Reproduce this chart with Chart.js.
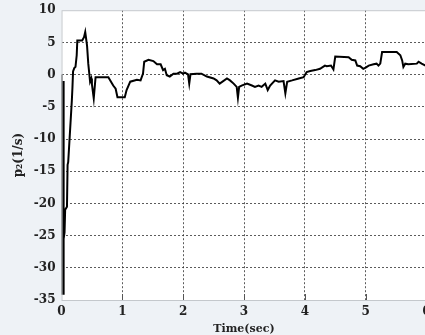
<!DOCTYPE html>
<html>
<head>
<meta charset="utf-8">
<script src="https://cdn.jsdelivr.net/npm/chart.js@4/dist/chart.umd.min.js"></script>
<style>
  html, body { margin: 0; padding: 0; overflow: hidden; background: #eef2f6; }
  #wrap { width: 440px; height: 343px; margin-top: -3px; }
</style>
</head>
<body>
<div id="wrap"><canvas id="myChart" width="440" height="343"></canvas></div>
<script>
// time axis (s) and p2 trace (1/s)
let timeSec = [0, 0.008, 0.010, 0.028, 0.030, 0.035, 0.04, 0.05, 0.06, 0.09, 0.10, 0.11, 0.17, 0.18, 0.19, 0.21, 0.23, 0.25, 0.26, 0.34, 0.37, 0.39,
  0.42, 0.44, 0.47, 0.49, 0.50, 0.53, 0.56, 0.77, 0.85, 0.89, 0.92, 1.04, 1.07, 1.13, 1.24, 1.30, 1.34, 1.36, 1.43, 1.51,
  1.57, 1.63, 1.67, 1.70, 1.73, 1.78, 1.84, 1.90, 1.95, 2.00, 2.03, 2.08, 2.10, 2.12, 2.22, 2.30, 2.39, 2.50, 2.55, 2.60,
  2.72, 2.77, 2.83, 2.88, 2.90, 2.92, 2.96, 3.05, 3.13, 3.18, 3.24, 3.29, 3.35, 3.39, 3.43, 3.51, 3.57, 3.65, 3.68, 3.71,
  3.79, 3.90, 3.98, 4.03, 4.09, 4.17, 4.25, 4.33, 4.36, 4.43, 4.47, 4.50, 4.72, 4.77, 4.83, 4.86, 4.91, 4.96, 5.00, 5.05,
  5.13, 5.18, 5.21, 5.24, 5.27, 5.51, 5.57, 5.60, 5.62, 5.65, 5.70, 5.84, 5.87, 5.92, 6.0];
let p2 = [0, 0, -34.2, -1, -34.2, -34.2, -25.5, -24.5, -21, -20.5, -14, -13.6, -4, -2, 0.5, 1.0, 1.2, 3, 5.3, 5.3, 5.8, 6.6,
  4.5, 1.7, -1.1, -0.6, -1.5, -3.7, -0.4, -0.4, -1.7, -2.2, -3.5, -3.5, -2.4, -1.1, -0.8, -0.9, 0.15, 2.0, 2.3, 2.1,
  1.6, 1.6, 0.7, 0.9, -0.1, -0.3, 0.15, 0.15, 0.4, 0.15, 0.3, 0.05, -1.4, 0.05, 0.15, 0.15, -0.3, -0.6, -0.9, -1.4,
  -0.6, -0.9, -1.4, -1.9, -3.6, -1.9, -1.7, -1.4, -1.7, -1.9, -1.7, -1.9, -1.4, -2.4, -1.7, -0.9, -1.1, -1.0, -2.9, -1.1,
  -0.9, -0.6, -0.4, 0.4, 0.55, 0.7, 0.9, 1.4, 1.3, 1.4, 0.8, 2.8, 2.7, 2.3, 2.2, 1.4, 1.3, 0.9, 1.1, 1.4,
  1.6, 1.7, 1.4, 1.7, 3.5, 3.5, 3.0, 2.2, 1.2, 1.7, 1.6, 1.7, 2.0, 1.7, 1.3];

let xTicks = [0, 1, 2, 3, 4, 5, 6];
let yTicks = [-35, -30, -25, -20, -15, -10, -5, 0, 5, 10];

const tickFont = { family: 'DejaVu Serif', size: 12, weight: 'bold' };
const titleFont = { family: 'DejaVu Serif', size: 11, weight: 'bold' };
const gridColor = 'rgba(50,50,50,0.8)';

// white plot area, grey frame and short inward ticks on the time axis
const plotFrame = {
  id: 'plotFrame',
  beforeDraw(chart) {
    const { ctx, chartArea: a } = chart;
    ctx.save();
    ctx.fillStyle = '#ffffff';
    ctx.fillRect(a.left, a.top, a.right - a.left, a.bottom - a.top);
    ctx.restore();
  },
  afterDraw(chart) {
    const { ctx, chartArea: a } = chart;
    const x = chart.scales.x;
    ctx.save();
    ctx.strokeStyle = '#555';
    ctx.lineWidth = 1;
    xTicks.slice(1, -1).forEach(v => {
      const px = Math.round(x.getPixelForValue(v)) + 0.5;
      ctx.beginPath();
      ctx.moveTo(px, a.bottom);
      ctx.lineTo(px, a.bottom - 6);
      ctx.stroke();
    });
    ctx.strokeStyle = '#c4c8cc';
    ctx.strokeRect(a.left + 0.5, a.top + 0.5, a.right - a.left, a.bottom - a.top);
    ctx.restore();
  }
};

const ctx = document.getElementById('myChart').getContext('2d');
const myChart = new Chart(ctx, {
  type: 'line',
  data: {
    datasets: [{
      data: timeSec.map((t, i) => ({ x: t, y: p2[i] })),
      borderColor: '#000',
      borderWidth: 2,
      pointRadius: 0,
      tension: 0,
      fill: false
    }]
  },
  options: {
    responsive: false,
    animation: false,
    layout: { padding: { top: 7, right: 13.5, left: 0, bottom: 0 } },
    plugins: { legend: { display: false }, tooltip: { enabled: false } },
    scales: {
      x: {
        type: 'linear',
        min: 0,
        max: 6,
        afterFit: s => { s.height = 40; },
        afterBuildTicks: s => { s.ticks = xTicks.map(v => ({ value: v })); },
        border: { display: false, dash: [2, 2] },
        grid: {
          drawTicks: false,
          color: c => (c.tick && (c.tick.value === 0 || c.tick.value === 6)) ? 'transparent' : gridColor,
          lineWidth: 1
        },
        ticks: { font: tickFont, color: '#222', padding: 5, maxRotation: 0 },
        title: { display: true, text: 'Time(sec)', font: titleFont, color: '#222', padding: { top: 0, bottom: 4 } }
      },
      y: {
        min: -35,
        max: 10,
        afterFit: s => { s.width = 61.5; },
        afterBuildTicks: s => { s.ticks = yTicks.map(v => ({ value: v })); },
        border: { display: false, dash: [2, 2] },
        grid: {
          drawTicks: false,
          color: c => (c.tick && (c.tick.value === -35 || c.tick.value === 10)) ? 'transparent' : gridColor,
          lineWidth: 1
        },
        ticks: { font: tickFont, color: '#222', padding: 6 },
        title: { display: true, text: 'p₂(1/s)', font: { family: 'DejaVu Serif', size: 12, weight: 'bold' }, color: '#222', padding: { top: 12, bottom: 0 } }
      }
    }
  },
  plugins: [plotFrame]
});
</script>
</body>
</html>
